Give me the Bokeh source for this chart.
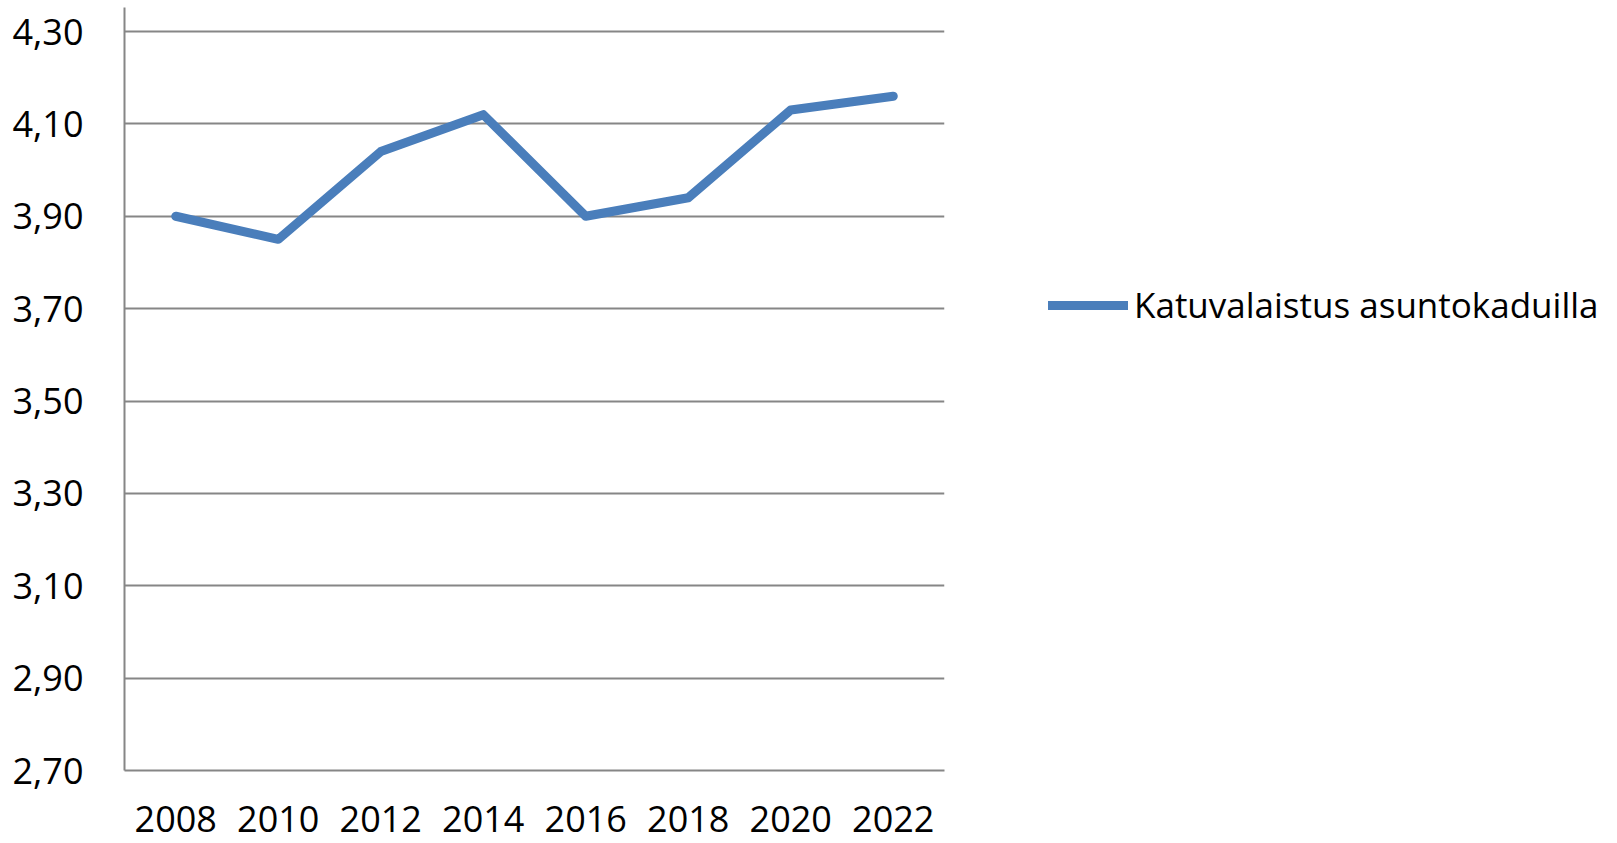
from bokeh.plotting import figure
from bokeh.models import FixedTicker, CustomJSTickFormatter, Legend, LegendItem, Range1d
from bokeh.embed import file_html
from bokeh.resources import INLINE

years = ["2008", "2010", "2012", "2014", "2016", "2018", "2020", "2022"]
values = [3.90, 3.85, 4.04, 4.12, 3.90, 3.94, 4.13, 4.16]
series_name = "Katuvalaistus asuntokaduilla"
y_ticks = [2.7, 2.9, 3.1, 3.3, 3.5, 3.7, 3.9, 4.1, 4.3]

FONT = "Open Sans"
GRID = "#868686"
BLUE = "#4A7EBB"

p = figure(x_range=years, y_range=Range1d(2.7, 4.352), frame_width=820, frame_height=763,
           output_backend="svg", toolbar_location=None,
           min_border_left=124, min_border_right=0, min_border_top=7, min_border_bottom=73)
p.outline_line_color = None
p.background_fill_color = "white"
p.border_fill_color = "white"

r = p.line(years, values, line_color=BLUE, line_width=9, line_cap="round", line_join="round")

p.yaxis.ticker = FixedTicker(ticks=y_ticks)
p.yaxis.formatter = CustomJSTickFormatter(code="return tick.toFixed(2).replace('.', ',');")
for ax in (p.xaxis[0], p.yaxis[0]):
    ax.axis_line_color = GRID
    ax.axis_line_width = 2
    ax.major_tick_line_color = None
    ax.minor_tick_line_color = None
    ax.major_tick_out = 0
    ax.major_tick_in = 0
    ax.major_label_text_font = FONT
    ax.major_label_text_font_size = "36px"
    ax.major_label_text_color = "black"
p.yaxis.major_label_standoff = 41
p.xaxis.major_label_standoff = 35

p.xgrid.grid_line_color = None
p.ygrid.grid_line_color = GRID
p.ygrid.grid_line_width = 2

legend = Legend(items=[LegendItem(label=series_name, renderers=[r])],
                location=(104, 442), border_line_color=None, background_fill_alpha=0,
                margin=0, padding=0, glyph_width=80, glyph_height=44, label_standoff=6,
                label_text_font=FONT, label_text_font_size="35px", label_text_color="black")
p.add_layout(legend, "right")

open("out.html", "w").write(file_html(p, INLINE))
